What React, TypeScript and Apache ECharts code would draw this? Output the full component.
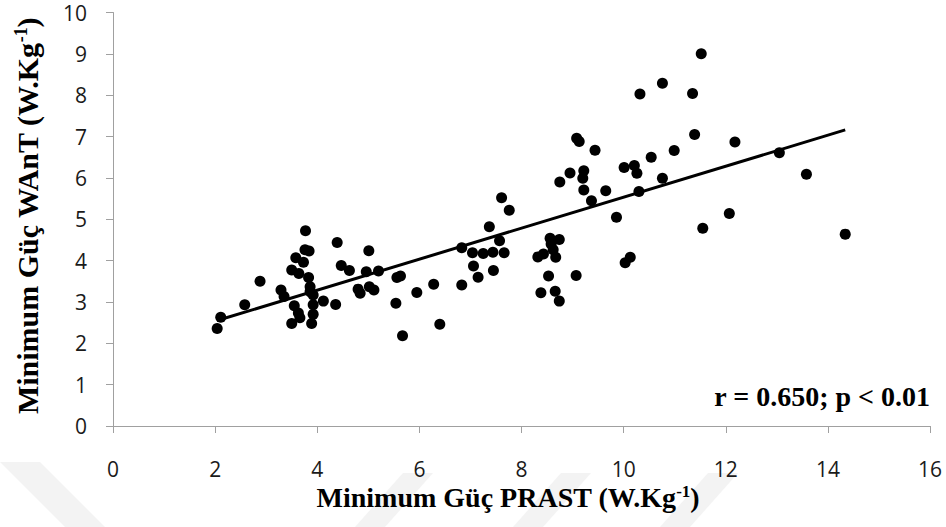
import React, { useEffect, useRef } from "react";
import * as echarts from "echarts";

// Minimum power PRAST (W.kg-1) – x values
const prast = [
  2.04, 2.11, 2.58, 2.88, 3.29, 3.35, 3.5, 3.5, 3.58, 3.55,
  3.63, 3.66, 3.64, 3.73, 3.77, 3.76, 3.84, 3.83, 3.86, 3.86,
  3.92, 3.89, 3.92, 3.92, 4.12, 4.36, 4.39, 4.47, 4.63, 4.8,
  4.84, 4.96, 5.01, 5.02, 5.11, 5.2, 5.54, 5.56, 5.63, 5.67,
  5.95, 6.28, 6.4, 6.83, 6.83, 7.04, 7.06, 7.15, 7.25, 7.44,
  7.66, 7.45, 7.37, 7.57, 7.61, 7.76, 8.32, 8.43, 8.56, 8.74,
  8.58, 8.62, 8.67, 8.53, 8.38, 8.66, 8.74, 9.07, 8.75, 8.95,
  9.22, 9.2, 9.22, 9.37, 9.65, 9.44, 9.08, 9.13, 9.86, 10.01,
  10.21, 10.26, 10.3, 10.03, 10.13, 10.32, 10.76, 11.35, 11.52, 11.39,
  10.99, 10.54, 10.76, 12.18, 12.07, 11.55, 13.05, 13.58, 14.34,
];

// Minimum power WAnT (W.kg-1) – y values
const want = [
  2.36, 2.63, 2.93, 3.5, 3.29, 3.13, 2.48, 3.77, 4.07, 2.91,
  2.73, 2.62, 3.69, 3.96, 4.72, 4.26, 4.23, 3.59, 3.37, 3.25,
  3.17, 2.48, 2.7, 2.93, 3.02, 2.94, 4.44, 3.88, 3.76, 3.31,
  3.21, 3.73, 4.24, 3.37, 3.29, 3.75, 2.97, 3.59, 3.63, 2.18,
  3.23, 3.43, 2.46, 4.31, 3.41, 4.19, 3.87, 3.6, 4.17, 4.2,
  4.19, 3.76, 4.82, 4.48, 5.52, 5.22, 4.09, 4.16, 4.54, 4.51,
  4.4, 4.26, 4.08, 3.63, 3.22, 3.26, 3.02, 3.64, 5.9, 6.12,
  6.17, 5.99, 5.71, 5.45, 5.69, 6.67, 6.96, 6.88, 5.05, 6.25,
  6.3, 6.11, 5.67, 3.95, 4.08, 8.03, 8.29, 8.04, 9.0, 7.05,
  6.66, 6.5, 5.99, 6.87, 5.14, 4.78, 6.61, 6.09, 4.64,
];

// Linear trend line endpoints
const trendX = [2.04, 14.34];
const trendY = [2.55, 7.16];

const xTitle = ["Minimum Güç PRAST (W.Kg", "-1", ")"];
const yTitle = ["Minimum Güç WAnT (W.Kg", "-1", ")"];
const statText = "r = 0.650; p < 0.01";

const serif = "'Liberation Serif', 'Times New Roman', serif";
const sans = "'Open Sans', 'Noto Sans', sans-serif";

const makeRich = (size: number) => ({
  t: { fontSize: size, fontWeight: "bold", fontFamily: serif, fill: "#000", lineHeight: size, verticalAlign: "bottom" },
  s: { fontSize: Math.round(size * 0.6), fontWeight: "bold", fontFamily: serif, fill: "#000", lineHeight: Math.round(size * 0.6), verticalAlign: "top" },
});

export default function App() {
  const ref = useRef<HTMLDivElement>(null);
  useEffect(() => {
    if (!ref.current) return;
    const chart = echarts.init(ref.current, null, { renderer: "svg" });
    const points = prast.map((x, i) => [x, want[i]]);
    const trend = trendX.map((x, i) => [x, trendY[i]]);
    chart.setOption({
      animation: false,
      backgroundColor: "#ffffff",
      grid: { left: 113, right: 16, top: 12.5, bottom: 101, containLabel: false },
      xAxis: {
        type: "value",
        min: 0,
        max: 16,
        interval: 2,
        axisLine: { show: true, onZero: false, lineStyle: { color: "#a0a0a0", width: 1 } },
        axisTick: { show: true, inside: false, length: 7, lineStyle: { color: "#a0a0a0" } },
        axisLabel: { margin: 32, fontSize: 21, fontFamily: sans, color: "#1a1a1a" },
        splitLine: { show: false },
      },
      yAxis: {
        type: "value",
        min: 0,
        max: 10,
        interval: 1,
        axisLine: { show: true, onZero: false, lineStyle: { color: "#a0a0a0", width: 1 } },
        axisTick: { show: true, inside: false, length: 7, lineStyle: { color: "#a0a0a0" } },
        axisLabel: { margin: 26, fontSize: 21, fontFamily: sans, color: "#1a1a1a" },
        splitLine: { show: false },
      },
      graphic: [
        {
          type: "group",
          silent: true,
          z: -10,
          children: [
            { type: "polygon", shape: { points: [[0, 462], [40, 462], [105, 527], [65, 527]] }, style: { fill: "#f3f3f3" } },
            { type: "polygon", shape: { points: [[355, 527], [385, 527], [433, 473], [403, 473]] }, style: { fill: "#f3f3f3" } },
            { type: "polygon", shape: { points: [[513, 527], [543, 527], [591, 473], [561, 473]] }, style: { fill: "#f3f3f3" } },
            { type: "polygon", shape: { points: [[660, 527], [690, 527], [738, 473], [708, 473]] }, style: { fill: "#f3f3f3" } },
          ],
        },
        {
          type: "text",
          x: 508,
          y: 497,
          style: {
            text: `{t|${xTitle[0]}}{s|${xTitle[1]}}{t|${xTitle[2]}}`,
            rich: makeRich(28),
            align: "center",
            verticalAlign: "middle",
          },
        },
        {
          type: "text",
          x: 27,
          y: 216,
          rotation: Math.PI / 2,
          style: {
            text: `{t|${yTitle[0]}}{s|${yTitle[1]}}{t|${yTitle[2]}}`,
            rich: makeRich(30),
            align: "center",
            verticalAlign: "middle",
          },
        },
        {
          type: "text",
          x: 930,
          y: 396,
          style: {
            text: statText,
            font: `bold 28px ${serif}`,
            fill: "#000",
            align: "right",
            verticalAlign: "middle",
          },
        },
      ],
      series: [
        {
          type: "scatter",
          data: points,
          symbol: "circle",
          symbolSize: 11,
          itemStyle: { color: "#000000", opacity: 1 },
          z: 2,
        },
        {
          type: "line",
          data: trend,
          showSymbol: false,
          symbol: "none",
          lineStyle: { color: "#000000", width: 3 },
          z: 3,
        },
      ],
    });
    return () => chart.dispose();
  }, []);
  return (
    <div
      ref={ref}
      style={{ position: "fixed", left: 0, top: 0, width: 946, height: 527 }}
    />
  );
}
